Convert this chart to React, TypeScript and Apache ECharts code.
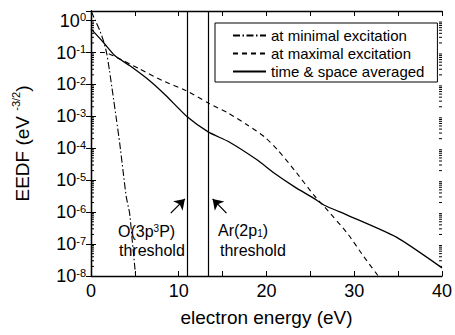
import React, { useEffect, useRef } from 'react';
import * as echarts from 'echarts';

// ---- data ----
const minExcEnergy = [0, 0.5, 1.0, 1.4, 1.77, 2.1, 2.48, 2.9, 3.27, 3.65, 4.02, 4.4, 4.7, 5.0, 5.1];
const minExcEedf = [2.0, 1.0, 0.49, 0.24, 0.1, 0.028, 5.2e-3, 8e-4, 1.45e-4, 2.0e-5, 3e-6, 9.3e-7, 1.3e-7, 1.8e-8, 1e-8];

const maxExcEnergy = [0, 1.5, 2.9, 5.5, 8.1, 10.8, 13.4, 15.7, 17.9, 19.8, 21.3, 23.2, 25.4, 26.6, 29.2, 31.1, 32.8];
const maxExcEedf = [0.1, 0.1, 0.071, 0.031, 0.0133, 6.5e-3, 2.6e-3, 1.24e-3, 5.2e-4, 2.26e-4, 8.7e-5, 2.05e-5, 3.4e-6, 1.47e-6, 2.2e-7, 4e-8, 9.5e-9];

const avgEnergy = [0, 1.4, 2.7, 4.4, 6.65, 8.5, 11.0, 13.4, 15.7, 19.0, 20.9, 23.2, 25.4, 26.6, 29.2, 34.8, 40];
const avgEedf = [0.55, 0.21, 0.081, 0.039, 0.0133, 4.6e-3, 9.5e-4, 3.2e-4, 1.6e-4, 4.2e-5, 1.65e-5, 6.2e-6, 2.7e-6, 1.65e-6, 8.1e-7, 1.65e-7, 1.8e-8];

const seriesNames = ['at minimal excitation', 'at maximal excitation', 'time & space averaged'];
const thresholds = [11.0, 13.4];
// arrows: [tailEnergy, tailEedf, tipEnergy, tipEedf]
const arrows = [
  [9.09, 9.3e-7, 10.7, 2.6e-6],
  [15.44, 9.3e-7, 13.86, 2.6e-6],
];
const xMin = 0;
const xMax = 40;
const xStep = 5;
const yMin = 1e-8;
const yMax = 2;
const decades = [-8, -7, -6, -5, -4, -3, -2, -1, 0];
const minorMultipliers = [2, 3, 4, 5, 6, 7, 8, 9];

const FONT = 'Liberation Sans, Arial, Helvetica, sans-serif';

export default function App() {
  const ref = useRef<HTMLDivElement>(null);
  useEffect(() => {
    const chart = echarts.init(ref.current!, null, { renderer: 'svg' });

    const minorTicks: number[][] = [];
    decades.forEach((d) => {
      minorMultipliers.forEach((m) => {
        const v = m * Math.pow(10, d);
        if (v < yMax) minorTicks.push([xMin, v]);
      });
    });

    const zip = (xs: number[], ys: number[]) => xs.map((x, i) => [x, ys[i]]);

    const axisLineStyle = { color: '#000', width: 1.3 };

    const option: any = {
      animation: false,
      textStyle: { fontFamily: FONT },
      grid: { left: 91, right: 9, top: 11, bottom: 59, containLabel: false },
      legend: {
        orient: 'vertical',
        left: 215,
        top: 23,
        data: seriesNames,
        itemWidth: 33,
        itemHeight: 14,
        itemGap: 3,
        padding: [5, 13, 3, 17],
        borderColor: '#000',
        borderWidth: 1,
        itemStyle: { opacity: 0 },
        textStyle: { fontSize: 15, color: '#000', fontFamily: FONT },
        selectedMode: false,
      },
      xAxis: [
        {
          type: 'value',
          min: xMin,
          max: xMax,
          interval: xStep,
          name: 'electron energy (eV)',
          nameLocation: 'middle',
          nameGap: 32,
          nameTextStyle: { fontSize: 19, color: '#000', fontFamily: FONT },
          axisLine: { lineStyle: axisLineStyle },
          axisTick: { inside: true, length: 5, lineStyle: { color: '#000', width: 1 } },
          axisLabel: {
            margin: 6,
            fontSize: 18,
            color: '#000',
            fontFamily: FONT,
            formatter: (v: number) => (v % 10 === 0 ? String(v) : ''),
          },
          splitLine: { show: false },
        },
        {
          type: 'value',
          position: 'top',
          min: xMin,
          max: xMax,
          interval: xStep,
          axisLine: { lineStyle: axisLineStyle },
          axisTick: { inside: true, length: 5, lineStyle: { color: '#000', width: 1 } },
          axisLabel: { show: false },
          splitLine: { show: false },
        },
      ],
      yAxis: [
        {
          type: 'log',
          min: yMin,
          max: yMax,
          name: '{b|EEDF (eV }{s|-3/2}{b|)}',
          nameLocation: 'middle',
          nameGap: 56,
          nameRotate: 90,
          nameTextStyle: {
            color: '#000',
            fontFamily: FONT,
            fontSize: 19,
            rich: {
              b: { fontSize: 19, lineHeight: 25, fontFamily: FONT, color: '#000' },
              s: { fontSize: 11, lineHeight: 2, fontFamily: FONT, color: '#000', verticalAlign: 'top' },
            },
          },
          axisLine: { lineStyle: axisLineStyle },
          axisTick: { inside: true, length: 5, lineStyle: { color: '#000', width: 1 } },
          axisLabel: {
            margin: 5,
            color: '#000',
            fontFamily: FONT,
            formatter: (v: number) => {
              const e = Math.log10(v);
              const r = Math.round(e);
              if (Math.abs(e - r) > 1e-6) return '';
              return '{b|10}{s|' + r + '}';
            },
            rich: {
              b: { fontSize: 18, lineHeight: 18, fontFamily: FONT, color: '#000' },
              s: { fontSize: 11, lineHeight: 7, fontFamily: FONT, color: '#000', verticalAlign: 'top' },
            },
          },
          splitLine: { show: false },
        },
        {
          type: 'log',
          position: 'right',
          min: yMin,
          max: yMax,
          axisLine: { lineStyle: axisLineStyle },
          axisTick: { inside: true, length: 5, lineStyle: { color: '#000', width: 1 } },
          axisLabel: { show: false },
          splitLine: { show: false },
        },
      ],
      series: [
        {
          name: seriesNames[0],
          type: 'line',
          data: zip(minExcEnergy, minExcEedf),
          showSymbol: false,
          symbol: 'none',
          smooth: 0.2,
          lineStyle: { color: '#000', width: 1.1, type: [7, 2.5, 1.5, 2.5] },
          itemStyle: { color: '#000' },
        },
        {
          name: seriesNames[1],
          type: 'line',
          data: zip(maxExcEnergy, maxExcEedf),
          showSymbol: false,
          symbol: 'none',
          smooth: 0.2,
          lineStyle: { color: '#000', width: 1.1, type: [5, 4] },
          itemStyle: { color: '#000' },
          markLine: {
            silent: true,
            symbol: ['none', 'none'],
            label: { show: false },
            emphasis: { disabled: true },
            lineStyle: { color: '#000', width: 1.2, type: 'solid' },
            data: thresholds.map((t) => ({ xAxis: t })),
          },
        },
        {
          name: seriesNames[2],
          type: 'line',
          data: zip(avgEnergy, avgEedf),
          showSymbol: false,
          symbol: 'none',
          smooth: 0.2,
          lineStyle: { color: '#000', width: 1.3, type: 'solid' },
          itemStyle: { color: '#000' },
          markLine: {
            silent: true,
            symbol: ['none', 'arrow'],
            symbolSize: 10,
            label: { show: false },
            emphasis: { disabled: true },
            lineStyle: { color: '#000', width: 1.3, type: 'solid' },
            data: arrows.map((a) => [{ coord: [a[0], a[1]] }, { coord: [a[2], a[3]] }]),
          },
        },
        {
          type: 'custom',
          silent: true,
          clip: false,
          data: minorTicks,
          encode: { x: 0, y: 1 },
          renderItem: (params: any, api: any) => {
            const v = api.value(1);
            const pl = api.coord([xMin, v]);
            const pr = api.coord([xMax, v]);
            return {
              type: 'group',
              children: [
                { type: 'line', shape: { x1: pl[0], y1: pl[1], x2: pl[0] + 3, y2: pl[1] }, style: { stroke: '#000', lineWidth: 1 } },
                { type: 'line', shape: { x1: pr[0], y1: pr[1], x2: pr[0] - 3, y2: pr[1] }, style: { stroke: '#000', lineWidth: 1 } },
              ],
            };
          },
        },
      ],
      graphic: [
        {
          type: 'text',
          x: 118,
          y: 231,
          style: {
            text: '{b|O(3p}{s|3}{b|P)}',
            verticalAlign: 'middle',
            rich: {
              b: { fontSize: 16, lineHeight: 16, fontFamily: FONT, fill: '#000' },
              s: { fontSize: 10, lineHeight: 6, fontFamily: FONT, fill: '#000', verticalAlign: 'top' },
            },
          },
        },
        {
          type: 'text',
          x: 119,
          y: 250,
          style: { text: 'threshold', fontSize: 16, fontFamily: FONT, fill: '#000', verticalAlign: 'middle' },
        },
        {
          type: 'text',
          x: 218,
          y: 230,
          style: {
            text: '{b|Ar(2p}{s|1}{b|)}',
            verticalAlign: 'middle',
            rich: {
              b: { fontSize: 16, lineHeight: 16, fontFamily: FONT, fill: '#000' },
              s: { fontSize: 10, lineHeight: 4, fontFamily: FONT, fill: '#000', verticalAlign: 'bottom' },
            },
          },
        },
        {
          type: 'text',
          x: 220,
          y: 250,
          style: { text: 'threshold', fontSize: 16, fontFamily: FONT, fill: '#000', verticalAlign: 'middle' },
        },
      ],
    };

    chart.setOption(option);
    return () => chart.dispose();
  }, []);

  return <div ref={ref} style={{ position: 'fixed', left: 0, top: 0, width: 455, height: 335, background: '#fff' }} />;
}
